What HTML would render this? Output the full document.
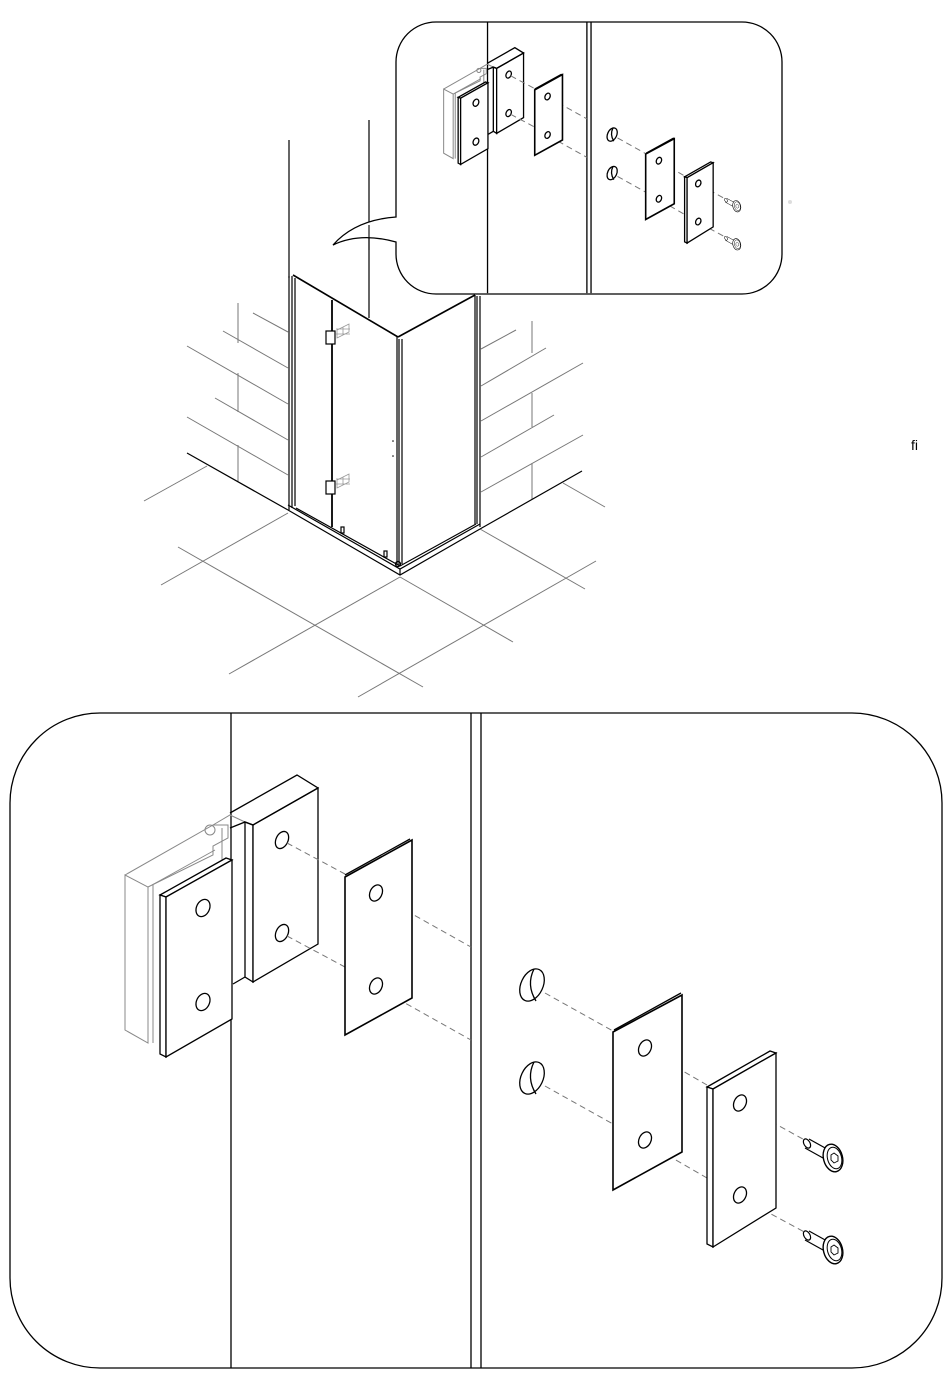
<!DOCTYPE html>
<html><head><meta charset="utf-8"><style>
html,body{margin:0;padding:0;background:#fff;}
svg{display:block;}
</style></head><body>
<svg width="950" height="1378" viewBox="0 0 950 1378" xmlns="http://www.w3.org/2000/svg">
<defs>
<g id="screw">
  <path d="M-24,-19 L-6,-9 M-28,-10 L-10,0" stroke="#000" stroke-width="1.2" fill="none"/>
  <ellipse cx="-26" cy="-14.5" rx="3" ry="5" transform="rotate(-30 -26 -14.5)" fill="#fff" stroke="#000" stroke-width="1.2"/>
  <ellipse cx="0" cy="0" rx="9.5" ry="14" transform="rotate(-15)" fill="#fff" stroke="#000" stroke-width="1.4"/>
  <ellipse cx="1.5" cy="0" rx="7" ry="11" transform="rotate(-15 1.5 0)" fill="none" stroke="#000" stroke-width="1"/>
  <polygon points="1,-5 5,-2 5,3 1,5 -2,2 -2,-3" fill="none" stroke="#000" stroke-width="0.9"/>
</g>
<g id="detail" fill="none" stroke="#000" stroke-width="1.3">
  <line x1="231" y1="713" x2="231" y2="1368" vector-effect="non-scaling-stroke"/>
  <line x1="471" y1="713" x2="471" y2="1368" vector-effect="non-scaling-stroke"/>
  <line x1="481" y1="713" x2="481" y2="1368" vector-effect="non-scaling-stroke"/>
  <g stroke="#888" stroke-width="1">
    <polygon points="125,875 148,887 148,1043 125,1030" vector-effect="non-scaling-stroke"/>
    <polyline points="125,875 213,825 228,825 228,838 213,846 213,855 148,887" vector-effect="non-scaling-stroke"/>
    <line x1="153" y1="885" x2="153" y2="1043" vector-effect="non-scaling-stroke"/>
    <line x1="152" y1="885" x2="215" y2="850" vector-effect="non-scaling-stroke"/>
    <circle cx="210" cy="830" r="5" vector-effect="non-scaling-stroke"/>
    <polyline points="213,825 230,815 245,822" vector-effect="non-scaling-stroke"/>
    <line x1="222" y1="828" x2="222" y2="860" vector-effect="non-scaling-stroke"/>
  </g>
  <polygon fill="#fff" points="245,822 253,825 253,982 245,977" vector-effect="non-scaling-stroke"/>
  <polygon fill="#fff" points="253,825 318,788 318,944 253,982" vector-effect="non-scaling-stroke"/>
  <polyline points="230,828 245,822 253,825 318,788 297,775 230,813" vector-effect="non-scaling-stroke"/>
  <line x1="233" y1="984" x2="245" y2="977" vector-effect="non-scaling-stroke"/>
  <ellipse cx="282" cy="840" rx="6" ry="9" transform="rotate(25 282 840)" vector-effect="non-scaling-stroke"/>
  <ellipse cx="282" cy="933" rx="6" ry="9" transform="rotate(25 282 933)" vector-effect="non-scaling-stroke"/>
  <polygon fill="#fff" points="160,895 226,858 232,860 166,897" vector-effect="non-scaling-stroke"/>
  <polygon fill="#fff" points="160,895 166,897 166,1057 160,1054" vector-effect="non-scaling-stroke"/>
  <polygon fill="#fff" points="166,897 232,860 232,1019 166,1057" vector-effect="non-scaling-stroke"/>
  <ellipse cx="203" cy="908" rx="6.5" ry="9" transform="rotate(25 203 908)" vector-effect="non-scaling-stroke"/>
  <ellipse cx="203" cy="1002" rx="6.5" ry="9" transform="rotate(25 203 1002)" vector-effect="non-scaling-stroke"/>
  <g stroke="#777" stroke-width="1" stroke-dasharray="6,4">
    <line x1="287" y1="843" x2="345" y2="874" vector-effect="non-scaling-stroke"/>
    <line x1="287" y1="936" x2="345" y2="967" vector-effect="non-scaling-stroke"/>
    <line x1="380" y1="896" x2="471" y2="947" vector-effect="non-scaling-stroke"/>
    <line x1="380" y1="989" x2="471" y2="1040" vector-effect="non-scaling-stroke"/>
  </g>
  <polygon fill="#fff" points="345,877 412,840 412,998 345,1035" stroke-width="1.6" vector-effect="non-scaling-stroke"/>
  <line x1="345" y1="875" x2="410" y2="839" vector-effect="non-scaling-stroke"/>
  <ellipse cx="376" cy="893" rx="6" ry="8.5" transform="rotate(25 376 893)" vector-effect="non-scaling-stroke"/>
  <ellipse cx="376" cy="986" rx="6" ry="8.5" transform="rotate(25 376 986)" vector-effect="non-scaling-stroke"/>
  <ellipse cx="532" cy="985" rx="11" ry="17" transform="rotate(25 532 985)" vector-effect="non-scaling-stroke"/>
  <path d="M534,969 Q526,985 536,1001" vector-effect="non-scaling-stroke"/>
  <ellipse cx="532" cy="1078" rx="11" ry="17" transform="rotate(25 532 1078)" vector-effect="non-scaling-stroke"/>
  <path d="M534,1062 Q526,1078 536,1094" vector-effect="non-scaling-stroke"/>
  <g stroke="#777" stroke-width="1" stroke-dasharray="6,4">
    <line x1="545" y1="993" x2="613" y2="1031" vector-effect="non-scaling-stroke"/>
    <line x1="545" y1="1086" x2="613" y2="1124" vector-effect="non-scaling-stroke"/>
    <line x1="650" y1="1052" x2="707" y2="1085" vector-effect="non-scaling-stroke"/>
    <line x1="650" y1="1145" x2="707" y2="1178" vector-effect="non-scaling-stroke"/>
    <line x1="745" y1="1107" x2="810" y2="1143" vector-effect="non-scaling-stroke"/>
    <line x1="745" y1="1200" x2="810" y2="1235" vector-effect="non-scaling-stroke"/>
  </g>
  <polygon fill="#fff" points="613,1032 682,995 682,1152 613,1190" stroke-width="1.6" vector-effect="non-scaling-stroke"/>
  <line x1="614" y1="1030" x2="681" y2="993" vector-effect="non-scaling-stroke"/>
  <ellipse cx="645" cy="1048" rx="6" ry="8.5" transform="rotate(25 645 1048)" vector-effect="non-scaling-stroke"/>
  <ellipse cx="645" cy="1140" rx="6" ry="8.5" transform="rotate(25 645 1140)" vector-effect="non-scaling-stroke"/>
  <polygon fill="#fff" points="707,1087 770,1051 776,1053 713,1089" vector-effect="non-scaling-stroke"/>
  <polygon fill="#fff" points="707,1087 713,1089 713,1247 707,1244" vector-effect="non-scaling-stroke"/>
  <polygon fill="#fff" points="713,1089 776,1053 776,1208 713,1247" vector-effect="non-scaling-stroke"/>
  <ellipse cx="740" cy="1103" rx="6" ry="8.5" transform="rotate(25 740 1103)" vector-effect="non-scaling-stroke"/>
  <ellipse cx="740" cy="1195" rx="6" ry="8.5" transform="rotate(25 740 1195)" vector-effect="non-scaling-stroke"/>
  <use href="#screw" transform="translate(833,1158)"/>
  <use href="#screw" transform="translate(833,1250)"/>
</g>
</defs>

<g fill="none" stroke="#777" stroke-width="1">
  <line x1="253" y1="313" x2="288" y2="332"/>
  <line x1="223" y1="331" x2="288" y2="368"/>
  <line x1="187" y1="346" x2="288" y2="404"/>
  <line x1="215" y1="398" x2="288" y2="440"/>
  <line x1="187" y1="417" x2="288" y2="475"/>
  <line x1="238" y1="303" x2="238" y2="343"/>
  <line x1="238" y1="373" x2="238" y2="412"/>
  <line x1="238" y1="445" x2="238" y2="482"/>
  <line x1="481" y1="349" x2="516" y2="330"/>
  <line x1="481" y1="386" x2="546" y2="348"/>
  <line x1="481" y1="421" x2="583" y2="363"/>
  <line x1="481" y1="457" x2="554" y2="415"/>
  <line x1="481" y1="492" x2="583" y2="435"/>
  <line x1="532" y1="321" x2="532" y2="353"/>
  <line x1="532" y1="393" x2="532" y2="427"/>
  <line x1="532" y1="463" x2="532" y2="499"/>
  <line x1="144" y1="501" x2="207" y2="466"/>
  <line x1="161" y1="585" x2="288" y2="513"/>
  <line x1="178" y1="547" x2="423" y2="687"/>
  <line x1="229" y1="674" x2="400" y2="577"/>
  <line x1="400" y1="577" x2="513" y2="642"/>
  <line x1="358" y1="697" x2="596" y2="561"/>
  <line x1="480" y1="529" x2="585" y2="589"/>
  <line x1="563" y1="483" x2="605" y2="507"/>
</g>
<g fill="none" stroke="#000" stroke-width="1.2">
  <line x1="187" y1="453" x2="288" y2="510"/>
  <line x1="480" y1="529" x2="582" y2="471"/>
  <line x1="289" y1="140" x2="289" y2="278"/>
  <line x1="369" y1="120" x2="369" y2="318"/>
  <line x1="293" y1="275" x2="398" y2="337" stroke-width="1.6"/>
  <line x1="398" y1="337" x2="475" y2="295" stroke-width="1.6"/>
  <line x1="289" y1="276" x2="289" y2="510"/>
  <line x1="292" y1="276" x2="292" y2="508"/>
  <line x1="295" y1="278" x2="295" y2="506"/>
  <line x1="332" y1="300" x2="332" y2="527" stroke-width="1.8"/>
  <line x1="397" y1="337" x2="397" y2="565"/>
  <line x1="399" y1="339" x2="399" y2="566"/>
  <line x1="402" y1="339" x2="402" y2="564"/>
  <line x1="475" y1="295" x2="475" y2="524"/>
  <line x1="477" y1="296" x2="477" y2="524"/>
  <line x1="480" y1="296" x2="480" y2="527"/>
  <polyline points="288,505 400,569 480,524"/>
  <polyline points="288,510 400,575 480,529"/>
  <polyline points="296,508 400,566 476,524"/>
  <line x1="400" y1="569" x2="400" y2="575"/>
  <rect x="326" y="331" width="9" height="13" fill="#fff"/>
  <rect x="326" y="481" width="9" height="13" fill="#fff"/>
  <rect x="341" y="527" width="3" height="6"/>
  <rect x="384" y="551" width="3" height="6"/>
  <circle cx="398" cy="564" r="2.5"/>
</g>
<g fill="none" stroke="#999" stroke-width="0.8">
  <path d="M337,330 l6,-3 v8 l-6,3z M343,327 l6,-3 v8 l-6,3z M336,334 h14 M336,329 h14"/>
  <path d="M337,480 l6,-3 v8 l-6,3z M343,477 l6,-3 v8 l-6,3z M336,484 h14 M336,479 h14"/>
</g>
<circle cx="393" cy="441" r="0.8" fill="#000"/>
<circle cx="393" cy="456" r="0.8" fill="#000"/>

<path d="M436,22 H742 A40,40 0 0 1 782,62 V254 A40,40 0 0 1 742,294 H436 A40,40 0 0 1 396,254 V242 Q360,232 333,245 Q355,220 396,217 V62 A40,40 0 0 1 436,22 Z" fill="#fff" stroke="#000" stroke-width="1.3"/>
<line x1="369" y1="225" x2="369" y2="250" stroke="#000" stroke-width="1.1"/>
<g transform="translate(391.9,-273.2) scale(0.414)"><use href="#detail"/></g>

<rect x="10" y="713" width="932" height="655" rx="90" ry="90" fill="#fff" stroke="#000" stroke-width="1.3"/>
<use href="#detail"/>

<circle cx="790" cy="202" r="2" fill="#ddd"/>
<text x="911" y="450" font-family="Liberation Sans, sans-serif" font-size="14" fill="#000">ﬁ</text>
</svg>
</body></html>
